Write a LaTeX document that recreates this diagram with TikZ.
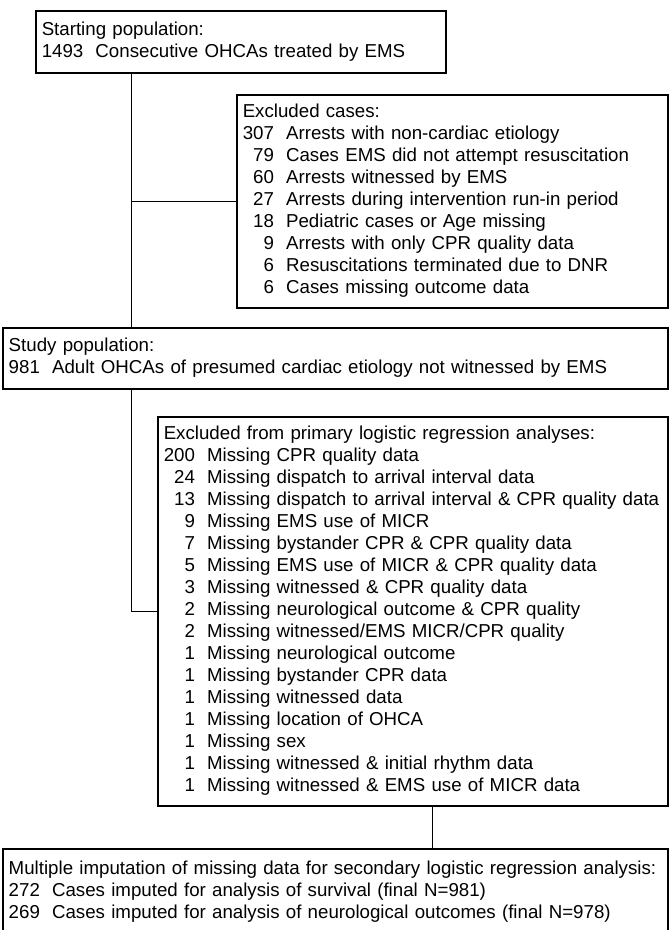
\documentclass[tikz,border=0pt]{standalone}
\usepackage{fontspec}
\setmainfont{Liberation Sans}
\newcommand{\hd}[1]{\multicolumn{2}{@{}l@{}}{#1}}
\begin{document}
\begin{tikzpicture}[x=1pt,y=-1pt,
  flowbox/.style={draw,line width=1.5pt,anchor=north west,inner xsep=6pt,inner ysep=0pt,
    align=left,font=\fontsize{18.7}{22}\selectfont},
  link/.style={line width=1pt}]
\useasboundingbox (0,0) rectangle (670,930);
\clip (0,0) rectangle (670,930);
\coordinate (spine) at (131,0);
\coordinate (drop) at (432,0);
% boxes
\node[flowbox,text width=398pt,minimum height=62pt](start) at (35,10){%
\begin{tabular}{@{}r@{\hspace{0.65em}}l@{}}
\hd{Starting population:}\\
1493 & Consecutive OHCAs treated by EMS
\end{tabular}};
\node[flowbox,text width=419pt,minimum height=213pt](excl1) at (236,94){%
\begin{tabular}{@{}r@{\hspace{0.65em}}l@{}}
\hd{Excluded cases:}\\
307 & Arrests with non-cardiac etiology\\
79 & Cases EMS did not attempt resuscitation\\
60 & Arrests witnessed by EMS\\
27 & Arrests during intervention run-in period\\
18 & Pediatric cases or Age missing\\
9 & Arrests with only CPR quality data\\
6 & Resuscitations terminated due to DNR\\
6 & Cases missing outcome data
\end{tabular}};
\node[flowbox,text width=653pt,minimum height=61pt](study) at (2,327){%
\begin{tabular}{@{}r@{\hspace{0.65em}}l@{}}
\hd{Study population:}\\
981 & Adult OHCAs of presumed cardiac etiology not witnessed by EMS
\end{tabular}};
\node[flowbox,text width=498pt,minimum height=389pt](excl2) at (157,416){%
\begin{tabular}{@{}r@{\hspace{0.65em}}l@{}}
\hd{Excluded from primary logistic regression analyses:}\\
200 & Missing CPR quality data\\
24 & Missing dispatch to arrival interval data\\
13 & Missing dispatch to arrival interval \& CPR quality data\\
9 & Missing EMS use of MICR\\
7 & Missing bystander CPR \& CPR quality data\\
5 & Missing EMS use of MICR \& CPR quality data\\
3 & Missing witnessed \& CPR quality data\\
2 & Missing neurological outcome \& CPR quality\\
2 & Missing witnessed/EMS MICR/CPR quality\\
1 & Missing neurological outcome\\
1 & Missing bystander CPR data\\
1 & Missing witnessed data\\
1 & Missing location of OHCA\\
1 & Missing sex\\
1 & Missing witnessed \& initial rhythm data\\
1 & Missing witnessed \& EMS use of MICR data
\end{tabular}};
% open at the bottom: runs past the page edge
\node[flowbox,text width=653pt,minimum height=130pt](final) at (2,848){%
\begin{tabular}{@{}r@{\hspace{0.65em}}l@{}}
\hd{Multiple imputation of missing data for secondary logistic regression analysis:}\\
272 & Cases imputed for analysis of survival (final N=981)\\
269 & Cases imputed for analysis of neurological outcomes (final N=978)\\
\\
\\
\end{tabular}};
% connectors
\draw[link](start.south -| spine)--(study.north -| spine);
\draw[link](excl1.west)--(excl1.west -| spine);
\draw[link](study.south -| spine)|-(excl2.west);
\draw[link](excl2.south -| drop)--(final.north -| drop);
\end{tikzpicture}
\end{document}
